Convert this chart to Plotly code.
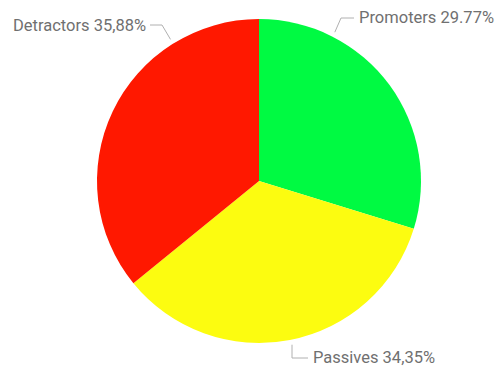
import math
import plotly.graph_objects as go

# NPS breakdown
categories = ["Promoters", "Passives", "Detractors"]
values = [29.77, 34.35, 35.88]
value_labels = ["29.77%", "34,35%", "35,88%"]
colors = ["#00FA42", "#FCFC10", "#FF1800"]

W, H = 495, 370
CX, CY, R = 259, 181, 162  # pie centre and radius in pixels


def px(x):
    return x / W


def py(y):
    return 1 - y / H


fig = go.Figure(
    go.Pie(
        labels=categories,
        values=values,
        sort=False,
        direction="clockwise",
        rotation=0,
        marker=dict(colors=colors, line=dict(width=0)),
        textinfo="none",
        hoverinfo="label+percent",
        showlegend=False,
        domain=dict(x=[px(CX - R), px(CX + R)], y=[py(CY + R), py(CY - R)]),
    )
)

# label callouts: angle (deg clockwise from top) where the leader touches the
# pie, the elbow point and the text anchor, all in pixels
callouts = {
    "Promoters": dict(angle=27, elbow=(341, 18), end=(354, 18), text=(357, 18), side="left"),
    "Passives": dict(angle=168.6, elbow=(292, 358), end=(308, 358), text=(311, 357), side="left"),
    "Detractors": dict(angle=-32, elbow=(162, 25), end=(150, 25), text=(148, 26), side="right"),
}

shapes = []
annotations = []
for name, lab in zip(categories, value_labels):
    c = callouts[name]
    a = math.radians(c["angle"])
    sx = CX + (R + 5) * math.sin(a)
    sy = CY - (R + 5) * math.cos(a)
    ex, ey = c["elbow"]
    tx, ty = c["end"]
    path = f"M {px(sx)} {py(sy)} L {px(ex)} {py(ey)} L {px(tx)} {py(ty)}"
    shapes.append(
        dict(type="path", xref="paper", yref="paper", path=path,
             line=dict(color="#B0B0B0", width=1))
    )
    annotations.append(
        dict(
            x=px(c["text"][0]), y=py(c["text"][1]), xref="paper", yref="paper",
            text=f"{name} {lab}", showarrow=False,
            xanchor=c["side"], yanchor="middle",
            font=dict(family="Roboto", size=16.5, color="#707070"),
        )
    )

fig.update_layout(
    width=W, height=H,
    margin=dict(l=0, r=0, t=0, b=0),
    paper_bgcolor="white",
    plot_bgcolor="white",
    shapes=shapes,
    annotations=annotations,
)

fig.write_html("out.html")
